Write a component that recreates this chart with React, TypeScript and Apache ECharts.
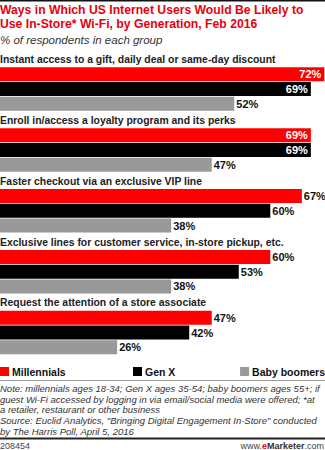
import React, { useEffect, useRef } from "react";
import * as echarts from "echarts";

const categories = [
  "Instant access to a gift, daily deal or same-day discount",
  "Enroll in/access a loyalty program and its perks",
  "Faster checkout via an exclusive VIP line",
  "Exclusive lines for customer service, in-store pickup, etc.",
  "Request the attention of a store associate",
];
const millennials = [72, 69, 67, 60, 47];
const genX = [69, 69, 60, 53, 42];
const boomers = [52, 47, 38, 38, 26];
const seriesNames = ["Millennials", "Gen X", "Baby boomers"];
const colors = ["#ff0000", "#000000", "#999999"];

const FONT = "'Liberation Sans Narrow', 'Liberation Sans', Arial, sans-serif";
const FONT2 = "'Liberation Sans', Arial, sans-serif";

export default function App() {
  const ref = useRef<HTMLDivElement>(null);
  useEffect(() => {
    if (!ref.current) return;
    const chart = echarts.init(ref.current, null, { renderer: "svg" });
    const mk = (name: string, values: number[], color: string) => ({
      name,
      type: "bar",
      barWidth: 14,
      barGap: "5.4%",
      itemStyle: { color },
      data: values.map((v) => {
        const inside = v >= 69;
        return {
          value: v,
          label: {
            show: true,
            position: inside ? "insideRight" : "right",
            distance: inside ? 3 : 2,
            color: inside ? "#ffffff" : "#111111",
            fontFamily: FONT,
            fontWeight: "bold",
            fontSize: 11,
            formatter: "{c}%",
          },
        };
      }),
    });
    chart.setOption({
      animation: false,
      title: {
        text: "Ways in Which US Internet Users Would Be Likely to\nUse In-Store* Wi-Fi, by Generation, Feb 2016",
        subtext: "% of respondents in each group",
        left: 0,
        top: 3,
        padding: 0,
        itemGap: 2,
        textStyle: {
          color: "#e8000b",
          fontFamily: FONT2,
          fontWeight: "bold",
          fontSize: 12.2,
          lineHeight: 14,
        },
        subtextStyle: {
          color: "#333333",
          fontFamily: FONT2,
          fontStyle: "italic",
          fontSize: 11.5,
          lineHeight: 13,
        },
      },
      legend: seriesNames.map((n, i) => ({
        data: [n],
        ...(i === 2 ? { right: 0 } : { left: [0, 133][i] }),
        top: 366,
        padding: 0,
        icon: "rect",
        itemWidth: 9,
        itemHeight: 9,
        itemGap: 3,
        selectedMode: false,
        textStyle: {
          color: "#111111",
          fontFamily: FONT,
          fontWeight: "bold",
          fontSize: 10.5,
          padding: [0, 0, 0, -2],
        },
      })),
      grid: { left: 0, right: 0, top: 51.3, height: 304.25, containLabel: false },
      xAxis: { type: "value", min: 0, max: 72.14, show: false },
      yAxis: {
        type: "category",
        data: categories,
        inverse: true,
        show: false,
      },
      series: [
        {
          name: "_label",
          type: "bar",
          barWidth: 14,
          barGap: "5.4%",
          itemStyle: { color: "transparent" },
          data: categories.map(() => 0),
          label: {
            show: true,
            position: [0, "50%"],
            align: "left",
            verticalAlign: "middle",
            color: "#222222",
            fontFamily: FONT,
            fontWeight: "bold",
            fontSize: 10.4,
            formatter: (p: any) => p.name,
          },
          silent: true,
        },
        mk(seriesNames[0], millennials, colors[0]),
        mk(seriesNames[1], genX, colors[1]),
        mk(seriesNames[2], boomers, colors[2]),
      ],
      graphic: [
        { type: "rect", shape: { x: 0, y: 0, width: 325, height: 1.5 }, style: { fill: "#111" } },
        { type: "rect", shape: { x: 0, y: 380, width: 325, height: 1 }, style: { fill: "#9a9a9a" } },
        {
          type: "text",
          left: 0,
          top: 383,
          style: {
            text:
              "Note: millennials ages 18-34; Gen X ages 35-54; baby boomers ages 55+; if\nguest Wi-Fi accessed by logging in via email/social media were offered; *at\na retailer, restaurant or other business\nSource: Euclid Analytics, \"Bringing Digital Engagement In-Store\" conducted\nby The Harris Poll, April 5, 2016",
            font: "italic 9.5px 'Liberation Sans', Arial, sans-serif",
            lineHeight: 10.7,
            fill: "#333333",
          },
        },
        { type: "rect", shape: { x: 0, y: 437.5, width: 325, height: 2 }, style: { fill: "#222" } },
        {
          type: "text",
          left: 0,
          top: 441,
          style: { text: "208454", font: "9px 'Liberation Sans', Arial, sans-serif", fill: "#444" },
        },
        {
          type: "text",
          right: 1,
          top: 441,
          style: {
            text: "{a|www.}{b|e}{c|Marketer}{a|.com}",
            font: "9px 'Liberation Sans', Arial, sans-serif",
            rich: {
              a: { fontFamily: FONT2, fontSize: 9, fill: "#444" },
              b: { fontFamily: FONT2, fontSize: 9, fontWeight: "bold", fill: "#e8000b" },
              c: { fontFamily: FONT2, fontSize: 9, fontWeight: "bold", fill: "#333" },
            },
          },
        },
      ],
    });
    return () => chart.dispose();
  }, []);
  return (
    <div
      ref={ref}
      style={{ position: "fixed", left: 0, top: 0, width: 325, height: 450, background: "#fff" }}
    />
  );
}
